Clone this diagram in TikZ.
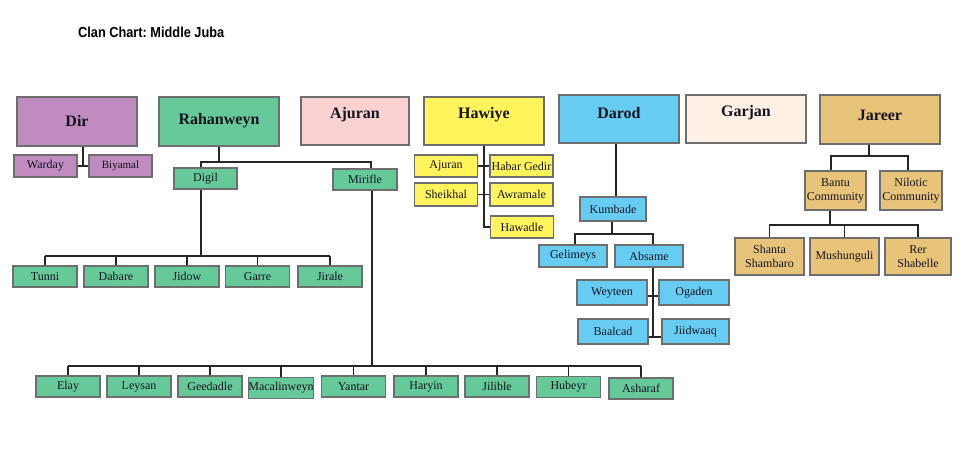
\documentclass[tikz,border=0pt]{standalone}
\usepackage{fontspec}
\setmainfont{Liberation Serif}
\newfontfamily\titlefont[FakeStretch=0.88]{Liberation Sans}
\frenchspacing
\definecolor{dirc}{HTML}{C08BBF}
\definecolor{rahc}{HTML}{66C999}
\definecolor{ajuc}{HTML}{F9D1D1}
\definecolor{hawc}{HTML}{FFF45C}
\definecolor{darc}{HTML}{66CCF2}
\definecolor{garc}{HTML}{FEF0E4}
\definecolor{jarc}{HTML}{E8C47A}
\definecolor{bordc}{HTML}{6E6E6E}
\definecolor{txtc}{HTML}{141420}
\tikzset{
  hdr/.style={draw=bordc, line width=1.3pt, minimum width=120pt, minimum height=48pt, inner sep=0pt},
  hdrtext/.style={font=\fontsize{16}{18}\selectfont\bfseries, text=txtc, inner sep=0pt},
  sbox/.style={draw=bordc, line width=1.2pt, minimum width=63pt, minimum height=22pt, inner sep=0pt, font=\fontsize{12}{13}\selectfont, text=txtc},
  twoline/.style={align=center, font=\fontsize{12}{14}\selectfont},
  conn/.style={draw=black!85, line width=1.2pt}
}
\begin{document}
\begin{tikzpicture}[x=1pt, y=-1pt]
\useasboundingbox (0,0) rectangle (967,468);
\node[font=\titlefont\fontsize{14.5}{16}\selectfont\bfseries, anchor=west, inner sep=0pt] (title) at (78,32) {Clan Chart: Middle Juba};

% headers
\node[hdr, fill=dirc, minimum height=49pt] (dir) at (77,121.5) {};
\node[hdrtext] (dirT) at (77,121) {Dir};
\node[hdr, fill=rahc, minimum height=49pt] (rah) at (219,121.5) {};
\node[hdrtext] (rahT) at (219,121) {Rahanweyn};
\node[hdr, fill=ajuc, minimum width=108pt] (aju) at (355,121) {};
\node[hdrtext] (ajuT) at (355,115) {Ajuran};
\node[hdr, fill=hawc] (hawiye) at (484,121) {};
\node[hdrtext] (hawT) at (484,115) {Hawiye};
\node[hdr, fill=darc] (darod) at (619,119) {};
\node[hdrtext] (darT) at (619,113) {Darod};
\node[hdr, fill=garc] (garjan) at (746,119) {};
\node[hdrtext] (garT) at (746,113) {Garjan};
\node[hdr, fill=jarc, minimum height=49pt] (jareer) at (880,119.5) {};
\node[hdrtext] (jarT) at (880,115) {Jareer};

% Dir
\node[sbox, fill=dirc] (warday) at (45.5,166) {Warday};
\node[sbox, fill=dirc, font=\fontsize{11}{12}\selectfont] (biyamal) at (120.5,166) {\raisebox{2.5pt}{Biyamal}};
\coordinate (dirJ) at (83,166);
\draw[conn] (dir.south -| dirJ) -- (dirJ);
\draw[conn] (warday.east) -- (biyamal.west);

% Rahanweyn
\node[sbox, fill=rahc, minimum height=21pt] (digil) at (205.5,178.5) {Digil};
\node[sbox, fill=rahc, minimum width=64pt, minimum height=21pt] (mirifle) at (365,179.5) {Mirifle};
\coordinate (rahJ1) at (201,162);
\coordinate (rahJ2) at (371,162);
\draw[conn] (rah.south) -- (rah.south |- rahJ1);
\draw[conn] (digil.north -| rahJ1) -- (rahJ1) -- (rahJ2) -- (mirifle.north -| rahJ2);

\foreach \n/\x/\t in {tunni/45/Tunni, dabare/116/Dabare, jidow/187/Jidow, garre/257.5/Garre, jirale/330/Jirale}{
  \node[sbox, fill=rahc, minimum width=64pt, minimum height=21pt] (\n) at (\x,276.5) {\t};
}
\coordinate (digJ) at (201,256);
\draw[conn] (digil.south -| digJ) -- (digJ);
\draw[conn] (tunni.north |- digJ) -- (jirale.north |- digJ);
\foreach \n in {tunni,dabare,jidow,garre,jirale}{
  \draw[conn] (\n.north) -- (\n.north |- digJ);
}

\foreach \n/\x/\y/\t in {elay/68/386.5/Elay, leysan/139/386.5/Leysan, geedadle/210/386.5/Geedadle, macalin/281/388/Macalinweyn, yantar/353.5/386.5/Yantar, haryin/426/386.5/Haryin, jilible/497/386.5/Jilible, hubeyr/568.5/387/Hubeyr, asharaf/641/388.5/Asharaf}{
  \node[sbox, fill=rahc, minimum width=64pt, minimum height=21pt] (\n) at (\x,\y) {\t};
}
\coordinate (mirJ) at (372,366);
\draw[conn] (mirifle.south -| mirJ) -- (mirJ);
\draw[conn] (elay.north |- mirJ) -- (asharaf.north |- mirJ);
\foreach \n in {elay,leysan,geedadle,macalin,yantar,haryin,jilible,hubeyr,asharaf}{
  \draw[conn] (\n.north) -- (\n.north |- mirJ);
}

% Hawiye
\node[sbox, fill=hawc] (ajuran2) at (446,166) {Ajuran};
\node[sbox, fill=hawc] (habar) at (521.5,166) {Habar Gedir};
\node[sbox, fill=hawc, minimum height=23pt] (sheikhal) at (446,194.5) {Sheikhal};
\node[sbox, fill=hawc, minimum height=23pt] (awramale) at (521.5,194.5) {Awramale};
\node[sbox, fill=hawc] (hawadle) at (522,227) {Hawadle};
\coordinate (hawJ) at (484,227);
\draw[conn] (hawiye.south -| hawJ) -- (hawJ) -- (hawadle.west);
\draw[conn] (ajuran2.east) -- (habar.west);
\draw[conn] (sheikhal.east) -- (awramale.west);

% Darod
\node[sbox, fill=darc, minimum width=66pt, minimum height=24pt] (kumbade) at (613,209) {Kumbade};
\coordinate (darJ) at (616,170);
\draw[conn] (darod.south -| darJ) -- (kumbade.north -| darJ);
\node[sbox, fill=darc, minimum width=68pt] (gelimeys) at (573,256) {Gelimeys};
\node[sbox, fill=darc, minimum width=68pt] (absame) at (649,256) {Absame};
\coordinate (kumJ) at (612,234);
\coordinate (kumL) at (575,234);
\coordinate (kumR) at (653,234);
\draw[conn] (kumbade.south -| kumJ) -- (kumJ);
\draw[conn] (gelimeys.north -| kumL) -- (kumL) -- (kumR) -- (absame.north -| kumR);
\node[sbox, fill=darc, minimum width=70pt, minimum height=25pt] (weyteen) at (612,292.5) {Weyteen};
\node[sbox, fill=darc, minimum width=70pt, minimum height=25pt] (ogaden) at (694,292.5) {Ogaden};
\node[sbox, fill=darc, minimum width=70pt, minimum height=25pt] (baalcad) at (613,331.5) {Baalcad};
\node[sbox, fill=darc, minimum width=67pt, minimum height=25pt] (jiidwaaq) at (695.5,331.5) {Jiidwaaq};
\coordinate (absJ1) at (653,296);
\coordinate (absJ) at (653,337);
\draw[conn] (absame.south -| absJ) -- (absJ);
\draw[conn] (weyteen.east |- absJ1) -- (ogaden.west |- absJ1);
\draw[conn] (baalcad.east |- absJ) -- (jiidwaaq.west |- absJ);

% Jareer
\node[sbox, fill=jarc, minimum width=61pt, minimum height=39pt, twoline] (bantu) at (835.5,190.5) {Bantu\\Community};
\node[sbox, fill=jarc, minimum width=62pt, minimum height=39pt, twoline] (nilotic) at (911,190.5) {Nilotic\\Community};
\coordinate (jarJ) at (869,156);
\coordinate (jarL) at (831,156);
\coordinate (jarR) at (908,156);
\draw[conn] (jareer.south -| jarJ) -- (jarJ);
\draw[conn] (bantu.north -| jarL) -- (jarL) -- (jarR) -- (nilotic.north -| jarR);
\node[sbox, fill=jarc, minimum width=69pt, minimum height=37pt, twoline] (shanta) at (769.5,256.5) {Shanta\\Shambaro};
\node[sbox, fill=jarc, minimum width=69pt, minimum height=37pt] (mush) at (844.5,256.5) {Mushunguli};
\node[sbox, fill=jarc, minimum width=66pt, minimum height=37pt, twoline] (rer) at (918,256.5) {Rer\\Shabelle};
\coordinate (banJ) at (830,225);
\draw[conn] (bantu.south -| banJ) -- (banJ);
\draw[conn] (shanta.north) -- (shanta.north |- banJ) -- (rer.north |- banJ) -- (rer.north);
\draw[conn] (mush.north) -- (mush.north |- banJ);
\end{tikzpicture}
\end{document}
